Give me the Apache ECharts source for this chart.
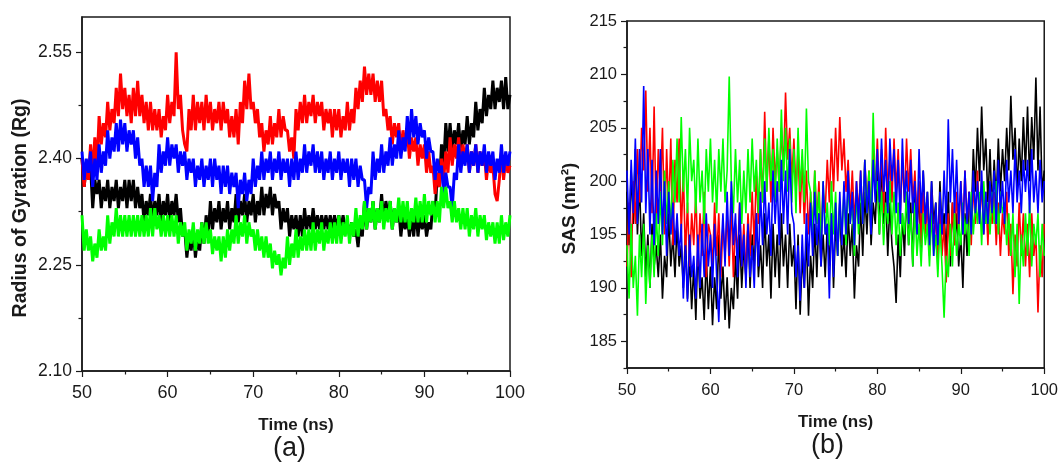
<!DOCTYPE html>
<html>
<head>
<meta charset="utf-8">
<script src="https://cdn.jsdelivr.net/npm/echarts@6/dist/echarts.min.js"></script>
<style>
html,body{margin:0;padding:0;background:#fff;}
#c{width:1061px;height:464px;}
</style>
</head>
<body>
<div id="c"></div>
<script>
// ---------- Panel (a): Radius of gyration, sampled every 0.25 ns from 50 ns ----------
const rgStart = 50, rgStep = 0.25;
const rgRed = [
2.40,2.36,2.39,2.37, 2.42,2.38,2.43,2.39, 2.46,2.42,2.45,2.43, 2.48,2.44,2.47,2.45, 2.50,2.46,2.52,2.47,
2.50,2.46,2.49,2.45, 2.50,2.46,2.51,2.46, 2.49,2.45,2.48,2.44, 2.48,2.44,2.47,2.44, 2.47,2.43,2.46,2.44,
2.49,2.45,2.48,2.46, 2.55,2.47,2.49,2.44, 2.42,2.41,2.47,2.44, 2.49,2.44,2.48,2.45, 2.48,2.44,2.49,2.45,
2.48,2.44,2.47,2.45, 2.48,2.44,2.48,2.45, 2.47,2.43,2.46,2.43, 2.47,2.42,2.48,2.45, 2.51,2.47,2.52,2.47,
2.48,2.45,2.47,2.43, 2.45,2.41,2.44,2.42, 2.46,2.42,2.45,2.43, 2.47,2.43,2.46,2.44, 2.44,2.41,2.43,2.40,
2.47,2.44,2.48,2.45, 2.49,2.45,2.48,2.46, 2.49,2.45,2.48,2.46, 2.48,2.44,2.47,2.45, 2.47,2.43,2.47,2.44,
2.47,2.43,2.46,2.44, 2.48,2.44,2.47,2.45, 2.50,2.47,2.51,2.48, 2.53,2.49,2.52,2.49, 2.52,2.48,2.51,2.48,
2.51,2.46,2.47,2.44, 2.46,2.42,2.45,2.43, 2.45,2.41,2.44,2.42, 2.44,2.40,2.43,2.41, 2.43,2.39,2.42,2.40,
2.42,2.38,2.41,2.38, 2.39,2.35,2.38,2.36, 2.40,2.37,2.41,2.38, 2.43,2.39,2.42,2.40, 2.43,2.39,2.42,2.40,
2.42,2.38,2.41,2.39, 2.42,2.38,2.41,2.39, 2.41,2.37,2.40,2.38, 2.39,2.35,2.34,2.37, 2.41,2.37,2.40,2.38,
2.39];
const rgBlue = [
2.41,2.37,2.40,2.38, 2.41,2.36,2.40,2.37, 2.42,2.38,2.41,2.39, 2.44,2.40,2.43,2.41, 2.45,2.41,2.455,2.42,
2.45,2.41,2.44,2.42, 2.44,2.40,2.43,2.39, 2.40,2.36,2.39,2.36, 2.39,2.34,2.38,2.36, 2.42,2.38,2.41,2.39,
2.43,2.39,2.42,2.40, 2.42,2.38,2.41,2.39, 2.41,2.37,2.40,2.38, 2.40,2.36,2.39,2.37, 2.40,2.36,2.39,2.37,
2.40,2.36,2.40,2.37, 2.39,2.35,2.39,2.36, 2.39,2.35,2.38,2.36, 2.38,2.33,2.37,2.35, 2.38,2.34,2.37,2.35,
2.40,2.36,2.39,2.37, 2.41,2.37,2.40,2.38, 2.41,2.37,2.40,2.38, 2.41,2.37,2.40,2.38, 2.40,2.36,2.40,2.37,
2.41,2.37,2.40,2.38, 2.42,2.38,2.41,2.39, 2.42,2.38,2.41,2.38, 2.41,2.37,2.40,2.38, 2.41,2.37,2.40,2.38,
2.41,2.37,2.40,2.38, 2.40,2.36,2.40,2.37, 2.40,2.36,2.39,2.37, 2.37,2.33,2.36,2.35, 2.41,2.37,2.40,2.38,
2.42,2.38,2.41,2.39, 2.43,2.39,2.42,2.40, 2.44,2.40,2.43,2.41, 2.46,2.42,2.47,2.43, 2.46,2.42,2.45,2.43,
2.44,2.40,2.43,2.41, 2.41,2.37,2.40,2.38, 2.39,2.35,2.38,2.36, 2.36,2.33,2.38,2.37, 2.42,2.38,2.41,2.39,
2.42,2.38,2.41,2.39, 2.42,2.38,2.41,2.39, 2.42,2.38,2.41,2.39, 2.41,2.37,2.40,2.38, 2.42,2.38,2.41,2.39,
2.41];
const rgBlack = [
2.40,2.36,2.39,2.37, 2.39,2.33,2.37,2.35, 2.37,2.33,2.36,2.34, 2.37,2.33,2.36,2.34, 2.37,2.33,2.36,2.34,
2.37,2.33,2.37,2.34, 2.37,2.33,2.36,2.33, 2.35,2.31,2.34,2.32, 2.35,2.31,2.34,2.32, 2.35,2.31,2.34,2.32,
2.35,2.31,2.34,2.32, 2.35,2.31,2.33,2.29, 2.30,2.26,2.29,2.27, 2.30,2.26,2.29,2.27, 2.31,2.28,2.32,2.29,
2.34,2.30,2.33,2.31, 2.34,2.30,2.33,2.31, 2.34,2.30,2.33,2.31, 2.35,2.31,2.34,2.32, 2.35,2.31,2.34,2.32,
2.35,2.31,2.34,2.32, 2.36,2.32,2.35,2.33, 2.36,2.32,2.35,2.33, 2.34,2.30,2.33,2.31, 2.33,2.29,2.32,2.30,
2.32,2.29,2.32,2.29, 2.33,2.30,2.32,2.30, 2.33,2.30,2.32,2.30, 2.32,2.30,2.32,2.30, 2.32,2.30,2.32,2.30,
2.32,2.30,2.32,2.30, 2.31,2.29,2.31,2.29, 2.30,2.275,2.31,2.29, 2.34,2.30,2.33,2.31, 2.34,2.30,2.33,2.31,
2.35,2.31,2.34,2.32, 2.34,2.30,2.33,2.31, 2.33,2.29,2.32,2.30, 2.32,2.29,2.32,2.29, 2.33,2.29,2.32,2.30,
2.32,2.29,2.31,2.30, 2.34,2.32,2.38,2.36, 2.42,2.39,2.45,2.41, 2.45,2.41,2.44,2.42, 2.45,2.41,2.44,2.42,
2.46,2.42,2.45,2.43, 2.48,2.44,2.47,2.45, 2.50,2.46,2.49,2.47, 2.51,2.47,2.50,2.48, 2.51,2.47,2.515,2.47,
2.49];
const rgGreen = [
2.32,2.27,2.30,2.27, 2.29,2.255,2.28,2.26, 2.30,2.27,2.29,2.27, 2.32,2.28,2.31,2.29, 2.33,2.29,2.32,2.29,
2.32,2.29,2.32,2.29, 2.32,2.29,2.32,2.29, 2.32,2.29,2.32,2.29, 2.33,2.29,2.33,2.30, 2.32,2.29,2.32,2.29,
2.32,2.29,2.32,2.29, 2.32,2.28,2.31,2.29, 2.31,2.27,2.30,2.28, 2.31,2.27,2.30,2.28, 2.31,2.28,2.31,2.28,
2.30,2.265,2.29,2.27, 2.29,2.255,2.29,2.26, 2.30,2.27,2.30,2.28, 2.32,2.28,2.31,2.29, 2.32,2.28,2.31,2.29,
2.30,2.27,2.30,2.27, 2.29,2.26,2.29,2.26, 2.28,2.245,2.27,2.25, 2.265,2.235,2.26,2.245, 2.29,2.25,2.28,2.26,
2.30,2.26,2.29,2.27, 2.30,2.27,2.30,2.27, 2.31,2.27,2.30,2.28, 2.31,2.27,2.30,2.28, 2.31,2.28,2.31,2.28,
2.32,2.28,2.31,2.29, 2.32,2.28,2.31,2.29, 2.33,2.29,2.32,2.30, 2.34,2.30,2.33,2.31, 2.34,2.30,2.33,2.31,
2.34,2.30,2.33,2.31, 2.34,2.30,2.33,2.31, 2.345,2.31,2.34,2.31, 2.34,2.30,2.33,2.31, 2.345,2.31,2.34,2.31,
2.35,2.31,2.34,2.32, 2.34,2.31,2.34,2.31, 2.36,2.33,2.36,2.33, 2.34,2.31,2.34,2.31, 2.33,2.30,2.33,2.30,
2.33,2.29,2.32,2.30, 2.33,2.29,2.32,2.30, 2.32,2.285,2.31,2.29, 2.31,2.28,2.31,2.28, 2.32,2.285,2.31,2.29,
2.32];
const rgTicks = [2.10, 2.25, 2.40, 2.55];
const rgMinorTicks = [2.175, 2.325, 2.475];

// ---------- Panel (b): SAS, sampled every 0.25 ns from 50 ns ----------
const sasStart = 50, sasStep = 0.25;
const sasBlack = [199,194,201,196,203,195,200,193, 197,191,195,190,196,192,194,191, 195,189,193,191,197,192,195,191,
196,192,194,190,195,189,193,188, 192,187,194,189,191,187,193,188, 192,186.5,191,188,195,189,192,187,
191,186.2,190,188,193,189,195,190, 194,191,196,190,195,192,197,191, 194,190,197,192,195,189,196,191,
195,190,197,192,195,190,196,192, 194,188,195,187.5,193,190,195,187.4, 193,190,196,191,197,192,195,191,
196,192,197,190,196,193,198,192, 195,191,197,193,196,189,194,192, 198,193,199,195,200,194,198,196,
201,195,202,196,199,193,198,194, 192,188.6,195,191,197,193,199,194, 198,192,200,195,199,193,201,196,
199,194,200,196,198,193,200,195, 197,193,199,192,198,194,197,192, 195,190,197,193,199,196,203,199,
205,200,207,201,204,198,203,197, 202,198,204,199,203,200,205,201, 208,202,205,199,204,200,206,201,
207,200,206,202,209.7,201,207,199, 201];
const sasRed = [192,198,191,200,196,203,198,205, 201,208.5,199,205,197,207,196,203, 199,205,195,203,197,204,194,202,
198,204,195,201,193,198,192,197, 194,199,192,197,193,199,191,196, 195,192,198,193,197,191,196,193,
197,192,198,191,196,193,198,192, 196,191,197,193,199,194,201,196, 203,198,206.5,199,204,198,205,200,
203,199,205,201,208.3,202,205,200, 204,199,203,197,202,196,201,195, 199,195,201,196,200,194,199,197,
202,198,204,199,205,200,206,201, 204,199,202,197,201,196,200,197, 201,196,202,198,201,197,203,199,
204,198,203,197,205,199,202,198, 204,199,203,197,202,198,204,199, 203,198,201,196,200,194,199,195,
198,193,199,194,197,192,198,193, 196,190.5,197,193,198,194,199,195, 200,195,201,196,199,194,200,196,
201,196,200,195,199,194,200,196, 199,194,198,193,197,195,199,193, 196,189.4,195,192,198,193,197,192,
196,191,197,193,195,187.7,194,191, 196];
const sasGreen = [194,189,196,190,193,187.4,195,191, 196,188.5,194,190,195,191,197,193, 199,194,201,196,200,195,202,198,
204,198,206,199,203,197,205,200, 202,197,204,198,201,196,203,199, 204,198,202,197,203,199,204,198,
201,209.8,200,197,203,198,202,196, 201,197,203,198,204,199,202,197, 203,198,204,199,205,200,203,198,
204,199,206.7,200,205,199,204,198, 203,197,205,199,203,198,206.8,200, 199,195,201,196,199,194,200,195,
198,194,200,195,199,193,198,195, 199,194,200,196,198,193,199,195, 200,196,202,197,201,196,206.4,199,
200,195,199,194,198,196,200,195, 199,194,198,193,197,195,199,194, 197,192,198,193,196,192,197,194,
196,192,197,193,195,191,196,192, 187.2,193,191,196,192,197,193,196, 194,198,195,197,193,199,195,198,
196,199,194,200,196,198,195,199, 196,200,195,199,197,198,194,197, 193,197,191,196,188.5,195,192,197,
193,198,192,196,194,197,191,196, 193];
const sasBlue = [201,195,202,197,204,196,203,198, 208.9,197,203,195,202,194,201,196, 203,195,200,193,199,195,198,194,
197,193,196,189,194,188.7,195,191, 193,189,195,190,196,191,197,192, 195,190,196,191,186.8,193,197,192,
199,193,200,194,197,191,198,192, 195,190,196,191,194,190,197,192, 199,194,200,195,198,193,201,196,
200,194,202,196,201,195,203,197, 196,191,194,188.8,195,190,197,192, 198,193,199,194,197,192,200,195,
196,189,197,191,198,193,199,194, 200,195,201,196,199,194,200,196, 201,196,202,197,200,195,202,198,
203,198,204,199,202,197,204,200, 203,197,202,196,204,198,201,196, 202,197,200,195,203,197,201,196,
199,194,200,193,198,194,199,195, 201,196,205.8,198,203,197,202,196, 200,195,201,196,199,195,201,197,
200,196,201,195,199,196,200,197, 201,196,202,197,200,196,202,198, 201,197,203,198,201,197,202,199,
202,197,203,198,201,197,202,198, 200];
const sasTicks = [185, 190, 195, 200, 205, 210, 215];
const sasMinorTicks = [182.5, 187.5, 192.5, 197.5, 202.5, 207.5, 212.5];

const timeTicks = [50, 60, 70, 80, 90, 100];

function pairs(vals, start, step) {
  return vals.map((v, i) => [start + i * step, v]);
}

const FONT = "'Liberation Sans', Arial, sans-serif";
const ink = '#1a1a1a';

function xAxisCfg(gridIndex, margin, fs) {
  return {
    type: 'value', gridIndex, min: timeTicks[0], max: timeTicks[timeTicks.length - 1], interval: 10,
    name: 'Time (ns)', nameLocation: 'middle', nameGap: 46,
    nameTextStyle: { fontFamily: FONT, fontWeight: 'bold', fontSize: 17, color: ink },
    axisLine: { show: true, onZero: false, lineStyle: { color: ink, width: 1.5 } },
    axisTick: { show: true, length: 6, lineStyle: { color: ink, width: 1.2 } },
    minorTick: { show: true, splitNumber: 2, length: 3.5, lineStyle: { color: ink, width: 1.2 } },
    axisLabel: { fontFamily: FONT, fontSize: fs, color: ink, margin },
    splitLine: { show: false }
  };
}

function yAxisCfg(gridIndex, min, max, ticks, fmt, name, nameGap, shift, fs, nfs) {
  return {
    type: 'value', gridIndex, min, max, position: 'left',
    name, nameLocation: 'middle', nameGap, nameRotate: 90,
    nameTextStyle: { fontFamily: FONT, fontWeight: 'bold', fontSize: nfs, color: ink, padding: [0, shift, 0, 0] },
    axisLine: { show: true, onZero: false, lineStyle: { color: ink, width: 1.5 } },
    axisTick: { show: true, length: 6, customValues: ticks, lineStyle: { color: ink, width: 1.2 } },
    axisLabel: { fontFamily: FONT, fontSize: fs, color: ink, margin: 10, customValues: ticks, formatter: fmt },
    splitLine: { show: false }
  };
}

function yMinorCfg(gridIndex, min, max, ticks) {
  return {
    type: 'value', gridIndex, min, max, position: 'left', offset: 0,
    axisLine: { show: false },
    axisTick: { show: true, length: 3.5, customValues: ticks, lineStyle: { color: ink, width: 1.2 } },
    axisLabel: { show: false },
    splitLine: { show: false }
  };
}

function line(name, data, color, width, xi, yi) {
  return {
    type: 'line', name, data, xAxisIndex: xi, yAxisIndex: yi,
    showSymbol: false, symbol: 'none', smooth: false,
    lineStyle: { color, width }, itemStyle: { color },
    emphasis: { disabled: true }
  };
}

const chart = echarts.init(document.getElementById('c'), null, { renderer: 'canvas' });
chart.setOption({
  animation: false,
  backgroundColor: '#ffffff',
  grid: [
    { left: 82, top: 17, width: 428, height: 354, show: true, borderColor: ink, borderWidth: 1.5, backgroundColor: 'transparent' },
    { left: 627, top: 21, width: 420, height: 347, show: true, borderColor: ink, borderWidth: 1.5, backgroundColor: 'transparent' }
  ],
  xAxis: [xAxisCfg(0, 13, 18), xAxisCfg(1, 14, 16.5)],
  yAxis: [
    yAxisCfg(0, 2.10, 2.60, rgTicks, v => v.toFixed(2), 'Radius of Gyration (Rg)', 51, 28, 17.5, 19.5),
    yAxisCfg(1, 182.5, 215, sasTicks, v => String(Math.round(v)), 'SAS (nm²)', 48, 28, 16.5, 19),
    yMinorCfg(0, 2.10, 2.60, rgMinorTicks),
    yMinorCfg(1, 182.5, 215, sasMinorTicks)
  ],
  series: [
    line('Black', pairs(rgBlack, rgStart, rgStep), '#000000', 3, 0, 0),
    line('Red', pairs(rgRed, rgStart, rgStep), '#ff0000', 3, 0, 0),
    line('Blue', pairs(rgBlue, rgStart, rgStep), '#0000ff', 3, 0, 0),
    line('Green', pairs(rgGreen, rgStart, rgStep), '#00ff00', 3, 0, 0),
    line('Black', pairs(sasBlack, sasStart, sasStep), '#000000', 1.6, 1, 1),
    line('Red', pairs(sasRed, sasStart, sasStep), '#ff0000', 1.6, 1, 1),
    line('Green', pairs(sasGreen, sasStart, sasStep), '#00ff00', 1.6, 1, 1),
    line('Blue', pairs(sasBlue, sasStart, sasStep), '#0000ff', 1.6, 1, 1)
  ],
  graphic: [
    { type: 'text', left: 273, top: 435, style: { text: '(a)', font: "27px 'Liberation Sans', Arial, sans-serif", fill: ink } },
    { type: 'text', left: 811, top: 432, style: { text: '(b)', font: "27px 'Liberation Sans', Arial, sans-serif", fill: ink } }
  ]
});
</script>
</body>
</html>
